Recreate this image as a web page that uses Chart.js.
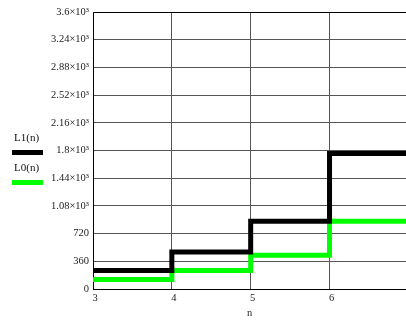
<!DOCTYPE html>
<html>
<head>
<meta charset="utf-8">
<script src="https://cdn.jsdelivr.net/npm/chart.js@4"></script>
<style>
  body { margin: 0; background: #fff; }
  #wrap { position: relative; width: 406px; height: 320px; }
  .leg { position: absolute; font: 11px "Liberation Serif", serif; color: #111; }
  .sw { position: absolute; left: 12px; width: 31px; height: 5px; }
</style>
</head>
<body>
<div id="wrap">
  <canvas id="c" width="406" height="320"></canvas>
  <div class="leg" style="left:14px; top:131px;">L1(n)</div>
  <div class="sw" style="top:150px; background:#000;"></div>
  <div class="leg" style="left:14px; top:161px;">L0(n)</div>
  <div class="sw" style="top:180px; background:#00ff00;"></div>
</div>
<script>
// step values (last point just carries the level to the edge)
const nValues = [3, 4, 5, 6, 7];
const L1 = [240, 480, 880, 1760, 1760];
const L0 = [125, 240, 440, 880, 880];

const yTickLabels = ['0', '360', '720', '1.08×10³', '1.44×10³', '1.8×10³',
  '2.16×10³', '2.52×10³', '2.88×10³', '3.24×10³', '3.6×10³'];
const xTickLabels = { 3: '3', 4: '4', 5: '5', 6: '6' };

const serif = { family: '"Liberation Serif", "Times New Roman", serif', size: 10.5 };

new Chart(document.getElementById('c'), {
  type: 'line',
  data: {
    datasets: [
      {
        label: 'L1(n)',
        data: nValues.map((n, i) => ({ x: n, y: L1[i] })),
        borderColor: '#000',
        borderWidth: 5,
        stepped: 'before',
        pointRadius: 0,
        fill: false
      },
      {
        label: 'L0(n)',
        data: nValues.map((n, i) => ({ x: n, y: L0[i] })),
        borderColor: '#00ff00',
        borderWidth: 5,
        stepped: 'before',
        pointRadius: 0,
        fill: false
      }
    ]
  },
  options: {
    responsive: false,
    animation: false,
    layout: { padding: { top: 12, right: 0, left: 0, bottom: 0 } },
    plugins: { legend: { display: false }, tooltip: { enabled: false } },
    scales: {
      x: {
        type: 'linear',
        min: 3,
        max: 6.97,
        grid: { color: '#555', lineWidth: 1, drawTicks: false },
        border: { color: '#000', width: 1 },
        ticks: {
          stepSize: 1,
          includeBounds: false,
          padding: 3,
          labelOffset: 2,
          color: '#222',
          font: serif,
          callback: v => xTickLabels[v] || ''
        },
        title: { display: true, text: 'n', color: '#222', font: serif, padding: { top: 10, bottom: 0 } },
        afterFit: s => { s.height = 31; }
      },
      y: {
        min: 0,
        max: 3600,
        grid: {
          color: ctx => ctx.tick && ctx.tick.value === 3600 ? '#000' : '#555',
          lineWidth: 1,
          drawTicks: false
        },
        border: { color: '#000', width: 1 },
        ticks: {
          stepSize: 360,
          padding: 4,
          color: '#222',
          font: serif,
          callback: (v, i) => yTickLabels[i]
        },
        afterFit: s => { s.width = 93; }
      }
    }
  }
});
</script>
</body>
</html>
